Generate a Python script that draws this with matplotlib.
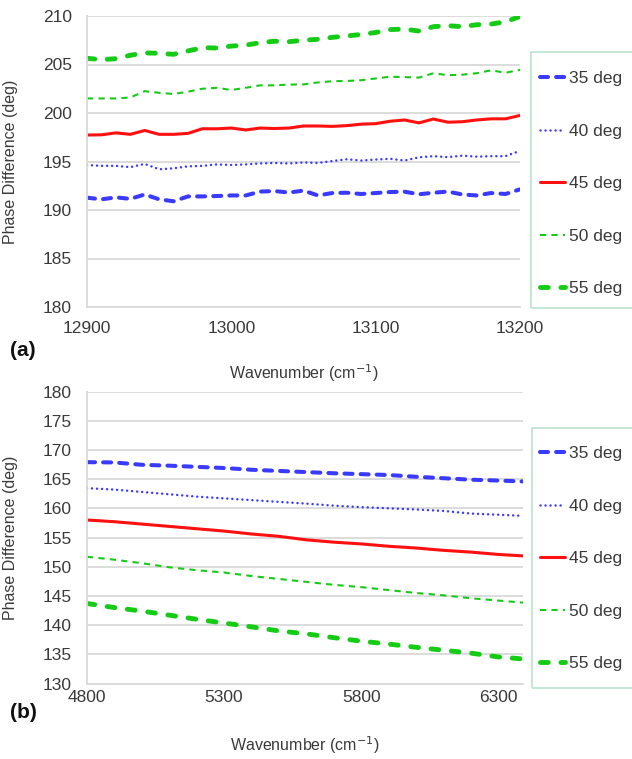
import matplotlib
matplotlib.use("Agg")
import matplotlib.pyplot as plt
from matplotlib.patches import Rectangle

plt.rcParams['font.family'] = ['Liberation Sans', 'DejaVu Sans']

# ---- data -------------------------------------------------------------
angle_labels = ["35 deg", "40 deg", "45 deg", "50 deg", "55 deg"]

# (a) high wavenumber band
wn_a = [12900, 12910, 12920, 12930, 12940, 12950, 12960, 12970, 12980, 12990,
        13000, 13010, 13020, 13030, 13040, 13050, 13060, 13070, 13080, 13090,
        13100, 13110, 13120, 13130, 13140, 13150, 13160, 13170, 13180, 13190,
        13200]
a_35 = [191.27, 191.10, 191.30, 191.15, 191.60, 191.10, 190.90, 191.40, 191.40, 191.44,
        191.50, 191.50, 191.90, 191.95, 191.80, 192.00, 191.50, 191.75, 191.78, 191.65,
        191.75, 191.85, 191.89, 191.62, 191.78, 191.90, 191.60, 191.50, 191.75, 191.65,
        192.13]
a_40 = [194.64, 194.55, 194.55, 194.42, 194.75, 194.20, 194.30, 194.50, 194.55, 194.70,
        194.64, 194.70, 194.80, 194.85, 194.80, 194.90, 194.85, 195.05, 195.23, 195.10,
        195.20, 195.28, 195.10, 195.43, 195.55, 195.45, 195.60, 195.50, 195.55, 195.55,
        196.10]
a_45 = [197.73, 197.75, 197.95, 197.80, 198.20, 197.80, 197.80, 197.90, 198.38, 198.37,
        198.45, 198.25, 198.45, 198.40, 198.45, 198.66, 198.66, 198.62, 198.70, 198.85,
        198.90, 199.15, 199.28, 198.98, 199.38, 199.05, 199.10, 199.28, 199.40, 199.40,
        199.75]
a_50 = [201.50, 201.50, 201.50, 201.60, 202.25, 202.08, 201.96, 202.20, 202.50, 202.60,
        202.37, 202.60, 202.85, 202.85, 202.93, 202.95, 203.15, 203.28, 203.30, 203.38,
        203.56, 203.74, 203.70, 203.65, 204.10, 203.90, 203.95, 204.10, 204.40, 204.15,
        204.45]
a_55 = [205.64, 205.50, 205.60, 205.95, 206.20, 206.15, 206.05, 206.40, 206.73, 206.70,
        206.90, 207.00, 207.25, 207.40, 207.35, 207.50, 207.60, 207.80, 207.94, 208.10,
        208.30, 208.60, 208.65, 208.45, 208.90, 209.00, 208.90, 209.10, 209.17, 209.40,
        209.95]

# (b) low wavenumber band
wn_b = [4800, 4900, 5000, 5100, 5200, 5300, 5400, 5500, 5600, 5700,
        5800, 5900, 6000, 6100, 6200, 6300, 6390]
b_35 = [167.90, 167.85, 167.45, 167.30, 167.10, 166.90, 166.60, 166.40, 166.20, 166.00,
        165.85, 165.70, 165.40, 165.15, 164.90, 164.75, 164.60]
b_40 = [163.45, 163.20, 162.80, 162.40, 162.00, 161.70, 161.40, 161.10, 160.80, 160.45,
        160.20, 160.00, 159.80, 159.55, 159.10, 158.90, 158.70]
b_45 = [158.00, 157.70, 157.30, 156.90, 156.50, 156.10, 155.60, 155.20, 154.60, 154.20,
        153.90, 153.50, 153.20, 152.80, 152.50, 152.10, 151.85]
b_50 = [151.70, 151.20, 150.60, 149.90, 149.40, 149.00, 148.40, 147.90, 147.40, 146.90,
        146.50, 146.00, 145.50, 145.10, 144.60, 144.20, 143.85]
b_55 = [143.70, 143.00, 142.40, 141.70, 141.00, 140.35, 139.70, 139.00, 138.50, 137.85,
        137.25, 136.75, 136.20, 135.70, 135.20, 134.55, 134.20]

# ---- styling ----------------------------------------------------------
BLUE = "#3a3aff"
RED = "#ff1010"
GREEN = "#14cc14"
TEXT = "#3a3a3a"
GRID = "#d9d9d9"

styles = [
    dict(color=BLUE, lw=2.9, dashes=(2.0, 2.0), dash_capstyle="round"),
    dict(color=BLUE, lw=1.8, dashes=(0.01, 2.0), dash_capstyle="round"),
    dict(color=RED, lw=2.2, linestyle="-", solid_capstyle="round"),
    dict(color=GREEN, lw=1.5, dashes=(3.0, 2.5), dash_capstyle="butt"),
    dict(color=GREEN, lw=3.5, dashes=(1.6, 2.6), dash_capstyle="round"),
]

W, H = 632, 759
fig = plt.figure(figsize=(W / 100, H / 100), dpi=100)


def fx(px):
    return px / W


def fy(py):
    return 1 - py / H


def panel(rect, x, series, xlim, xticks, ylim, yticks, tag, xlab_y, tag_y,
          leg_box, leg_y0, xpad):
    left, top, right, bottom = rect
    ax = fig.add_axes([fx(left), fy(bottom), fx(right - left), fy(top) - fy(bottom)])
    handles = []
    for ys, st, lab in zip(series, styles, angle_labels):
        line, = ax.plot(x, ys, label=lab, **st)
        handles.append(line)
    ax.set_xlim(*xlim)
    ax.set_ylim(*ylim)
    ax.set_xticks(xticks)
    ax.set_yticks(yticks)
    ax.grid(axis="y", color=GRID, lw=1.3)
    ax.set_axisbelow(True)
    for s in ("top", "right"):
        ax.spines[s].set_visible(False)
    for s in ("left", "bottom"):
        ax.spines[s].set_color(GRID)
        ax.spines[s].set_linewidth(1.3)
    ax.tick_params(length=0, labelsize=12.5, labelcolor=TEXT)
    ax.tick_params(axis="y", pad=11)
    ax.tick_params(axis="x", pad=xpad)
    ax.set_ylabel("Phase Difference (deg)", fontsize=11.5, color=TEXT)
    ax.yaxis.set_label_coords(-(left - 18) / (right - left), 0.5)
    fig.text(fx((left + right) / 2), fy(xlab_y), "Wavenumber (cm$^{-1}$)",
             ha="center", va="center", fontsize=11.5, color=TEXT)
    fig.text(fx(23), fy(tag_y), tag, ha="center", va="center",
             fontsize=15, fontweight="bold", color="#111111")

    # legend frame, running off the right edge
    bx0, by0, by1 = leg_box
    fig.patches.append(Rectangle((fx(bx0), fy(by1)), fx(W + 20 - bx0), fy(by0) - fy(by1),
                                 transform=fig.transFigure, fill=False,
                                 edgecolor="#bfe6d2", lw=1.3))
    leg = fig.legend(handles=handles, loc="upper left",
                     bbox_to_anchor=(fx(540), fy(leg_y0)),
                     frameon=False, fontsize=12.5, labelspacing=2.15,
                     handlelength=1.45, handletextpad=0.2, borderpad=0,
                     borderaxespad=0)
    for t in leg.get_texts():
        t.set_color(TEXT)
    return ax


panel((87, 16, 520, 307), wn_a, [a_35, a_40, a_45, a_50, a_55],
      (12900, 13200), [12900, 13000, 13100, 13200],
      (180, 210), list(range(180, 211, 5)), "(a)", 373, 351,
      (531, 52, 308), 71, 10)

panel((87, 391.5, 523, 683.5), wn_b, [b_35, b_40, b_45, b_50, b_55],
      (4800, 6390), [4800, 5300, 5800, 6300],
      (130, 180), list(range(130, 181, 5)), "(b)", 745, 712,
      (532, 428, 688), 446, 5)

fig.savefig("out.png", dpi=100)
